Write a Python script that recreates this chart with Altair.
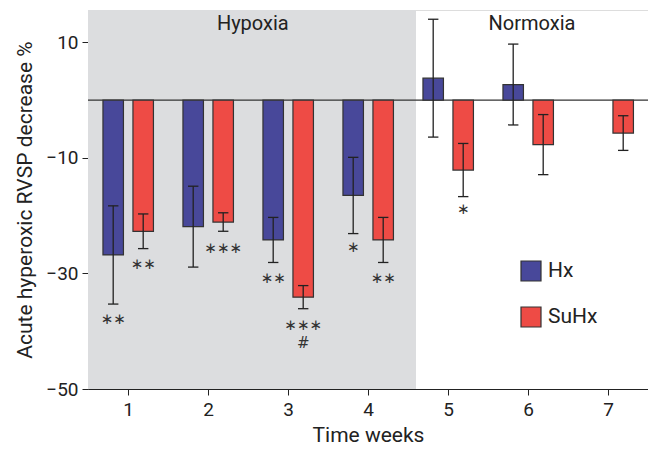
import altair as alt
import pandas as pd

weeks = [1, 2, 3, 4, 5, 6, 7, 1, 2, 3, 4, 5, 6, 7]
groups = ["Hx"] * 7 + ["SuHx"] * 7
means = [-26.8, -21.9, -24.2, -16.5, 3.8, 2.7, None,
         -22.7, -21.1, -34.1, -24.2, -12.1, -7.7, -5.7]
errs = [8.5, 7.0, 3.9, 6.6, 10.2, 7.0, None,
        3.0, 1.6, 2.0, 3.9, 4.6, 5.2, 3.0]

ann_weeks = [1, 1, 2, 3, 3, 3, 4, 4, 5]
ann_groups = ["Hx", "SuHx", "SuHx", "Hx", "SuHx", "SuHx", "Hx", "SuHx", "SuHx"]
ann_text = ["∗∗", "∗∗", "∗∗∗", "∗∗", "∗∗∗", "#", "∗", "∗∗", "∗"]
ann_y = [-37.9, -28.3, -25.6, -30.8, -39.0, -42.0, -25.5, -30.8, -18.9]

phase_labels = ["Hypoxia", "Normoxia"]
phase_x = [2.56, 6.05]
phase_y = [13.2, 13.2]
hypoxia_end = 4.6

series = ["Hx", "SuHx"]
colors = ["#48489a", "#ee4b45"]

df = pd.DataFrame({"week": weeks, "group": groups, "mean": means, "err": errs}).dropna()
ann = pd.DataFrame({"week": ann_weeks, "group": ann_groups, "text": ann_text, "y": ann_y})
ph = pd.DataFrame({"label": phase_labels, "x": phase_x, "y": phase_y})
shade = pd.DataFrame({"x0": [0.5], "x1": [hypoxia_end], "y0": [-50], "y1": [15.6]})

xs = alt.Scale(domain=[0.5, 7.5], nice=False, zero=False)
ys = alt.Scale(domain=[-50, 15.6], nice=False, zero=False)
FONT = "Roboto"
TXT = "#222222"

off = "datum.week + (datum.group == 'Hx' ? -0.185 : 0.19)"

bg = alt.Chart(shade).mark_rect(color="#dcdddf").encode(
    x=alt.X("x0:Q", scale=xs, axis=alt.Axis(values=[1, 2, 3, 4, 5, 6, 7], format="d", title="Time weeks",
                                            tickSize=6, labelFontSize=19, titleFontSize=21,
                                            labelPadding=5, titlePadding=5, grid=False,
                                            domainColor=TXT, tickColor=TXT, labelColor=TXT,
                                            titleColor=TXT, titleFontWeight="normal", labelFont=FONT,
                                            titleFont=FONT)),
    x2="x1:Q",
    y=alt.Y("y0:Q", scale=ys, axis=alt.Axis(values=[10, -10, -30, -50], format="d",
                                            title="Acute hyperoxic RVSP decrease %",
                                            tickSize=6, labelFontSize=19, titleFontSize=21,
                                            labelPadding=4, titlePadding=10, grid=False,
                                            domainColor=TXT, tickColor=TXT, labelColor=TXT,
                                            titleColor=TXT, titleFontWeight="normal", labelFont=FONT,
                                            titleFont=FONT)),
    y2="y1:Q",
)

zero = alt.Chart(shade).mark_rule(color="#333333", strokeWidth=1.2).encode(y=alt.datum(0, scale=ys))

base = alt.Chart(df).transform_calculate(xc=off).transform_calculate(
    xl="datum.xc - 0.128", xr="datum.xc + 0.128", cl="datum.xc - 0.065", cr="datum.xc + 0.065",
    lo="datum.mean - datum.err", hi="datum.mean + datum.err")

bars = base.mark_bar(stroke="#333333", strokeWidth=1.2).encode(
    x=alt.X("xl:Q", scale=xs), x2="xr:Q",
    y=alt.Y("mean:Q", scale=ys), y2=alt.datum(0),
    color=alt.Color("group:N", scale=alt.Scale(domain=series, range=colors),
                    legend=alt.Legend(title=None, orient="none", legendX=432, legendY=250,
                                      symbolType="square", symbolSize=400, symbolStrokeColor="#333333",
                                      symbolStrokeWidth=1.2, labelFontSize=21, labelFont=FONT,
                                      labelColor=TXT, rowPadding=20, labelOffset=6, symbolOpacity=1)),
)

ebar = base.mark_rule(color="#222222", strokeWidth=1.3).encode(
    x=alt.X("xc:Q", scale=xs), y=alt.Y("lo:Q", scale=ys), y2="hi:Q")
cap_lo = base.mark_rule(color="#222222", strokeWidth=1.3).encode(
    x=alt.X("cl:Q", scale=xs), x2="cr:Q", y=alt.Y("lo:Q", scale=ys))
cap_hi = base.mark_rule(color="#222222", strokeWidth=1.3).encode(
    x=alt.X("cl:Q", scale=xs), x2="cr:Q", y=alt.Y("hi:Q", scale=ys))

anns = alt.Chart(ann).transform_calculate(xc=off).mark_text(
    font="DejaVu Sans", fontSize=15, color="#333333", baseline="middle").encode(
    x=alt.X("xc:Q", scale=xs), y=alt.Y("y:Q", scale=ys), text="text:N")

phases = alt.Chart(ph).mark_text(font=FONT, fontSize=20, color=TXT, baseline="middle").encode(
    x=alt.X("x:Q", scale=xs), y=alt.Y("y:Q", scale=ys), text="label:N")

chart = alt.layer(bg, zero, bars, ebar, cap_lo, cap_hi, anns, phases).properties(
    width=560, height=379, autosize=alt.AutoSizeParams(type="none"),
    padding={"left": 88, "top": 10, "right": 0, "bottom": 63},
).configure_view(stroke=None).configure(background="white")

chart.save("out.html", embed_options={"renderer": "svg", "actions": False})
